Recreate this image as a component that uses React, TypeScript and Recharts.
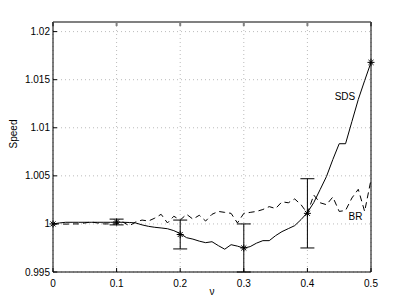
import { ComposedChart, Line, Scatter, ErrorBar, XAxis, YAxis, CartesianGrid, ReferenceDot, Label } from 'recharts';

const nu = Array.from({ length: 51 }, (_, i) => i / 100);

const sdsSpeed = [
  1.0000, 1.0001, 1.00017, 1.00017, 1.00017, 1.00017, 1.00017, 1.00017, 1.00017, 1.00017,
  1.00018, 1.00017, 1.00015, 1.0001, 0.9999, 0.99975, 0.99965, 0.99958, 0.9995, 0.9993,
  0.9990, 0.99857, 0.99842, 0.99821, 0.99805, 0.99815, 0.99774, 0.99737, 0.99784, 0.99769,
  0.99748, 0.99764, 0.998, 0.99826, 0.99826, 0.99878, 0.9992, 0.99951, 0.99982, 1.00045,
  1.00118, 1.00222, 1.00357, 1.00493, 1.0067, 1.00834, 1.00834, 1.01065, 1.01294, 1.0149,
  1.0168,
];

const brSpeed = [
  1.0000, 1.0000, 0.99998, 1.0000, 1.0000, 1.0001, 1.0002, 1.0001, 1.0000, 1.0000,
  1.0000, 1.0002, 0.9998, 1.0002, 1.0004, 1.0003, 1.0006, 1.0010, 1.0001, 1.0008,
  1.0004, 1.0010, 1.0005, 1.0009, 1.0003, 1.0010, 1.0013, 1.0012, 1.0011, 1.0001,
  1.0011, 1.0012, 1.0013, 1.0015, 1.0018, 1.0016, 1.0023, 1.0022, 1.0026, 1.0020,
  1.0011, 1.0030, 1.0022, 1.0020, 1.0028, 1.0013, 1.0014, 1.0027, 1.0036, 1.0013,
  1.0046,
];

// mean and half-width of the error bars at the marked points
const markNu = [0, 0.1, 0.2, 0.3, 0.4, 0.5];
const markSpeed = [1.0000, 1.0002, 0.9989, 0.9975, 1.0011, 1.0168];
const markErr = [0, 0.0003, 0.0015, 0.0025, 0.0036, 0];

const xTicks = [0, 0.1, 0.2, 0.3, 0.4, 0.5];
const yTicks = [0.995, 1, 1.005, 1.01, 1.015, 1.02];

const data = nu.map((n, i) => ({ nu: n, sds: sdsSpeed[i], br: brSpeed[i] }));
const marks = markNu.map((n, i) => ({ nu: n, sds: markSpeed[i], err: markErr[i] }));

const FONT = 'Liberation Sans, Arial, sans-serif';
const font = { fontFamily: FONT, fontSize: 10, fill: '#000' };

const Star = (props: any) => {
  const { cx, cy } = props;
  const r = 3.5;
  const d = r * 0.72;
  return (
    <g stroke="#000" strokeWidth={1}>
      <line x1={cx - r} y1={cy} x2={cx + r} y2={cy} />
      <line x1={cx} y1={cy - r} x2={cx} y2={cy + r} />
      <line x1={cx - d} y1={cy - d} x2={cx + d} y2={cy + d} />
      <line x1={cx - d} y1={cy + d} x2={cx + d} y2={cy - d} />
    </g>
  );
};

const fmtY = (v: number) => String(+v.toFixed(3));

export default function App() {
  return (
    <div style={{ position: 'absolute', left: 0, top: 0, width: 409, height: 308, background: '#fff' }}>
      <ComposedChart width={409} height={308} data={data} margin={{ top: 21, right: 37, left: 13, bottom: 6 }}>
        <CartesianGrid stroke="#bbb" strokeDasharray="1 3" horizontalValues={yTicks} verticalValues={xTicks} />
        <XAxis
          dataKey="nu"
          type="number"
          domain={[0, 0.5]}
          ticks={xTicks}
          tick={font}
          tickSize={-4}
          tickMargin={12}
          stroke="#000"
          height={30}
          interval={0}
        >
          <Label
            content={() => (
              <text x={212} y={295} textAnchor="middle" fontFamily={FONT} fontSize={10} fill="#000">ν</text>
            )}
          />
        </XAxis>
        <XAxis
          xAxisId="top"
          orientation="top"
          dataKey="nu"
          type="number"
          domain={[0, 0.5]}
          ticks={xTicks}
          tickFormatter={() => ''}
          tickSize={-4}
          stroke="#808080"
          strokeWidth={2}
          height={1}
          interval={0}
        />
        <YAxis
          type="number"
          domain={[0.995, 1.021]}
          ticks={yTicks}
          tickFormatter={fmtY}
          tick={font}
          tickSize={-4}
          tickMargin={7}
          stroke="#000"
          width={40}
          interval={0}
          allowDataOverflow
        >
          <Label
            content={() => (
              <text x={17} y={134} transform="rotate(-90 17 134)" textAnchor="middle" fontFamily={FONT} fontSize={10} fill="#000">Speed</text>
            )}
          />
        </YAxis>
        <YAxis
          yAxisId="right"
          orientation="right"
          type="number"
          domain={[0.995, 1.021]}
          ticks={yTicks}
          tickFormatter={() => ''}
          tickSize={-4}
          stroke="#000"
          width={1}
          interval={0}
        />
        <Line dataKey="br" type="linear" stroke="#000" strokeWidth={1} strokeDasharray="6 4" dot={false} isAnimationActive={false} />
        <Line dataKey="sds" type="linear" stroke="#000" strokeWidth={1} dot={false} isAnimationActive={false} />
        <Scatter data={marks} dataKey="sds" shape={<Star />} isAnimationActive={false}>
          <ErrorBar dataKey="err" direction="y" width={7} stroke="#000" strokeWidth={1} isAnimationActive={false} />
        </Scatter>
        <ReferenceDot x={0.459} y={1.0133} r={0} stroke="none" fill="none" label={{ value: 'SDS', position: 'center', ...font }} />
        <ReferenceDot x={0.4756} y={1.0008} r={0} stroke="none" fill="none" label={{ value: 'BR', position: 'center', ...font }} />
      </ComposedChart>
    </div>
  );
}
